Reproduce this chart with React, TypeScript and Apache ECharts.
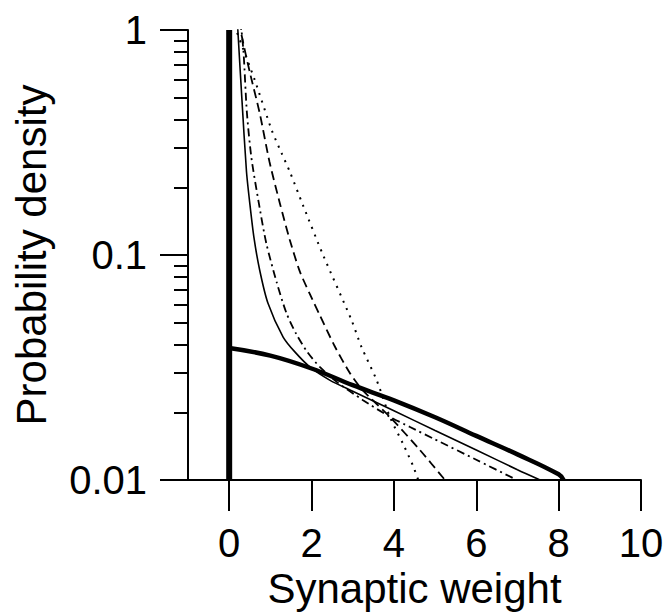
import React, { useEffect, useRef } from "react";
import * as echarts from "echarts";

// x tick values / y minor ticks
const xTickValues = [0, 2, 4, 6, 8, 10];
const yMinorTicks = [0.02, 0.03, 0.04, 0.05, 0.06, 0.07, 0.08, 0.09, 0.2, 0.3, 0.4, 0.5, 0.6, 0.7, 0.8, 0.9];

// Series (x = synaptic weight, y = probability density)
const deltaAtZero: [number, number][] = [[0, 0.01], [0, 1]];

const thickSolid: [number, number][] = [
  [0, 0.0386], [1, 0.0357], [2, 0.0313], [3, 0.0264], [4, 0.0226],
  [5, 0.019], [6, 0.0157], [7, 0.013], [8, 0.0106], [8.12, 0.01],
];

const thinSolid: [number, number][] = [
  [0.2, 1.1], [0.21, 1.0], [0.31, 0.489], [0.42, 0.235], [0.5, 0.17], [0.6, 0.12],
  [0.74, 0.0858], [0.94, 0.0612], [1.31, 0.0432], [1.6, 0.037], [1.96, 0.0318],
  [2.44, 0.0278], [3, 0.0248], [4, 0.0203], [5, 0.0166], [6, 0.0136],
  [7, 0.0111], [7.55, 0.01],
];

const dashDot: [number, number][] = [
  [0.29, 1.1], [0.3, 1.0], [0.35, 0.79], [0.43, 0.43], [0.54, 0.27], [0.72, 0.17],
  [0.9, 0.113], [1.15, 0.076], [1.39, 0.0552], [1.63, 0.0445], [1.9, 0.037],
  [2.2, 0.0318], [2.61, 0.0273], [3.24, 0.0227], [3.9, 0.0191], [4.39, 0.0172],
  [4.95, 0.0153], [6.0, 0.0123], [6.89, 0.0102], [6.98, 0.01],
];

const dashed: [number, number][] = [
  [0.28, 1.1], [0.29, 1.0], [0.3, 0.95], [0.5, 0.65], [0.74, 0.428], [0.98, 0.259],
  [1.23, 0.17], [1.47, 0.117], [1.71, 0.085], [1.96, 0.067], [2.2, 0.054],
  [2.56, 0.0394], [2.93, 0.0299], [3.24, 0.0251], [3.9, 0.0191], [4.63, 0.0136],
  [5.24, 0.01],
];

const dotted: [number, number][] = [
  [0.15, 1.05], [0.17, 1.0], [0.62, 0.6], [1.03, 0.36], [1.27, 0.284], [1.47, 0.235],
  [1.8, 0.165], [2.28, 0.1], [2.97, 0.0514], [3.21, 0.0391], [3.58, 0.0278],
  [3.9, 0.0191], [4.22, 0.0145], [4.47, 0.0115], [4.59, 0.01],
];

const FONT = "'Liberation Sans', Arial, Helvetica, sans-serif";

export default function App() {
  const ref = useRef<HTMLDivElement>(null);
  useEffect(() => {
    if (!ref.current) return;
    const chart = echarts.init(ref.current, undefined, { renderer: "svg" });
    const line = (data: [number, number][], width: number, type: any, smooth: number | boolean) => ({
      type: "line",
      data,
      showSymbol: false,
      symbol: "none",
      clip: true,
      smooth,
      lineStyle: { color: "#000", width, type },
      xAxisIndex: 0,
      yAxisIndex: 0,
    });
    chart.setOption({
      animation: false,
      backgroundColor: "#fff",
      grid: { left: 188, right: 28, top: 30, bottom: 136, containLabel: false },
      xAxis: {
        type: "value",
        min: -1,
        max: 10,
        name: "Synaptic weight",
        nameLocation: "middle",
        nameGap: 87,
        nameTextStyle: { fontSize: 42, color: "#000", fontFamily: FONT },
        axisLine: { show: true, onZero: false, lineStyle: { color: "#000", width: 2 } },
        axisTick: { show: true, customValues: xTickValues, length: 31, lineStyle: { color: "#000", width: 2 } },
        axisLabel: { customValues: xTickValues, margin: 43, fontSize: 40, color: "#000", fontFamily: FONT },
        splitLine: { show: false },
      },
      yAxis: [
        {
          type: "log",
          logBase: 10,
          min: 0.01,
          max: 1,
          name: "Probability density",
          nameLocation: "middle",
          nameRotate: 90,
          nameGap: 136,
          nameTextStyle: { fontSize: 42, color: "#000", fontFamily: FONT },
          axisLine: { show: true, onZero: false, lineStyle: { color: "#000", width: 2 } },
          axisTick: { show: true, length: 28, lineStyle: { color: "#000", width: 2 } },
          axisLabel: { margin: 41, fontSize: 40, color: "#000", fontFamily: FONT },
          splitLine: { show: false },
        },
        {
          type: "log",
          logBase: 10,
          min: 0.01,
          max: 1,
          position: "left",
          axisLine: { show: false, onZero: false },
          axisTick: { show: true, customValues: yMinorTicks, length: 14, lineStyle: { color: "#000", width: 2 } },
          axisLabel: { show: false },
          splitLine: { show: false },
        },
      ],
      series: [
        line(deltaAtZero, 6, "solid", false),
        line(thickSolid, 4.5, "solid", 0.4),
        line(thinSolid, 1.6, "solid", 0.25),
        line(dashDot, 1.8, [8, 4, 2, 4], 0.25),
        line(dashed, 1.8, [9, 5], 0.25),
        line(dotted, 2, [2, 6], 0.25),
      ],
    });
    return () => chart.dispose();
  }, []);
  return (
    <div
      ref={ref}
      style={{ position: "fixed", left: 0, top: 0, width: 669, height: 616, background: "#fff" }}
    />
  );
}
